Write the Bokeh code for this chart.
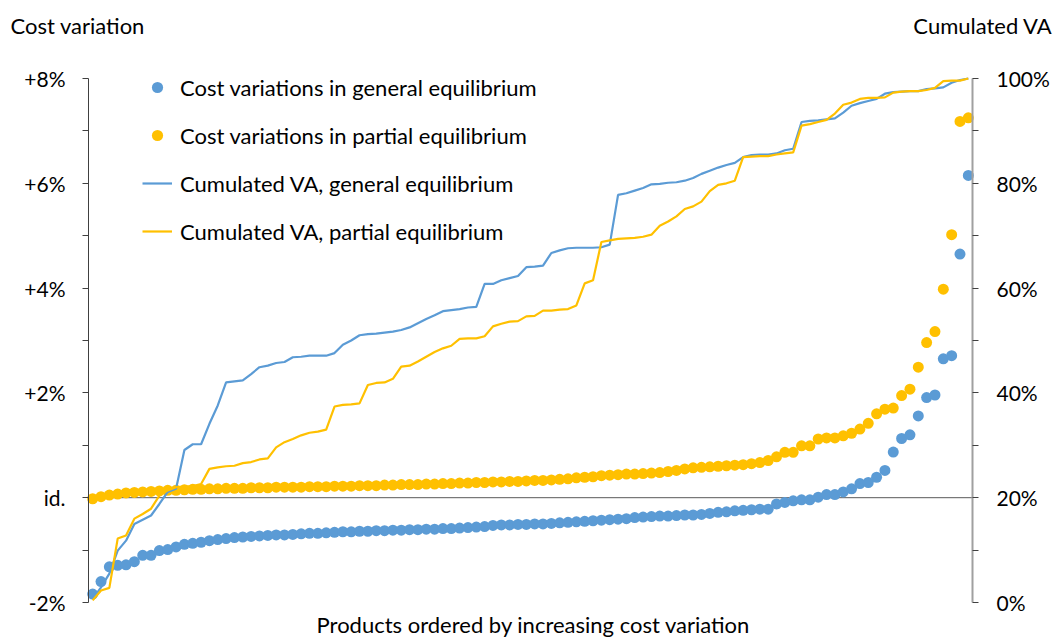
from bokeh.plotting import figure
from bokeh.models import Range1d, LinearAxis, FixedTicker, Label, Legend, LegendItem
from bokeh.embed import file_html
from bokeh.resources import INLINE

# ---------------- data ----------------
cost_general = [
    -1.84, -1.60, -1.32, -1.29, -1.28, -1.22, -1.10, -1.10, -1.01, -0.99,
    -0.94, -0.89, -0.87, -0.85, -0.82, -0.80, -0.78, -0.76, -0.75, -0.74,
    -0.73, -0.72, -0.71, -0.71, -0.70, -0.69, -0.68, -0.68, -0.67, -0.66,
    -0.65, -0.65, -0.64, -0.64, -0.63, -0.63, -0.62, -0.62, -0.61, -0.61,
    -0.60, -0.60, -0.59, -0.59, -0.58, -0.57, -0.56, -0.55, -0.53, -0.52,
    -0.52, -0.51, -0.51, -0.50, -0.50, -0.49, -0.48, -0.47, -0.46, -0.45,
    -0.44, -0.43, -0.42, -0.41, -0.40, -0.38, -0.37, -0.36, -0.35, -0.35,
    -0.34, -0.33, -0.33, -0.32, -0.30, -0.28, -0.27, -0.25, -0.24, -0.23,
    -0.22, -0.22, -0.12, -0.09, -0.06, -0.04, -0.04, 0.01, 0.06, 0.06,
    0.11, 0.17, 0.27, 0.29, 0.39, 0.52, 0.87, 1.13, 1.20, 1.56,
    1.91, 1.96, 2.65, 2.71, 4.65, 6.15,
]
cost_partial = [
    -0.02, 0.02, 0.05, 0.07, 0.09, 0.10, 0.11, 0.12, 0.13, 0.14,
    0.14, 0.15, 0.16, 0.16, 0.17, 0.17, 0.18, 0.18, 0.18, 0.19,
    0.19, 0.19, 0.20, 0.20, 0.20, 0.20, 0.21, 0.21, 0.21, 0.22,
    0.22, 0.22, 0.23, 0.23, 0.23, 0.24, 0.24, 0.25, 0.25, 0.25,
    0.26, 0.26, 0.27, 0.27, 0.28, 0.28, 0.29, 0.29, 0.30, 0.30,
    0.31, 0.31, 0.32, 0.33, 0.33, 0.34, 0.35, 0.36, 0.38, 0.39,
    0.40, 0.42, 0.43, 0.44, 0.45, 0.45, 0.46, 0.47, 0.48, 0.50,
    0.52, 0.55, 0.57, 0.58, 0.59, 0.60, 0.61, 0.62, 0.63, 0.65,
    0.67, 0.71, 0.78, 0.865, 0.865, 0.99, 0.99, 1.12, 1.14, 1.14,
    1.18, 1.23, 1.31, 1.42, 1.60, 1.69, 1.71, 1.95, 2.07, 2.49,
    2.96, 3.17, 3.98, 5.02, 7.18, 7.25,
]
va_general = [
    0.7, 2.9, 5.5, 9.9, 11.8, 15.0, 15.8, 16.6, 18.8, 21.1,
    21.7, 29.1, 30.2, 30.2, 34.1, 37.6, 42.0, 42.2, 42.4, 43.6,
    44.9, 45.2, 45.7, 45.9, 46.8, 46.9, 47.1, 47.1, 47.1, 47.6,
    49.2, 50.0, 51.0, 51.2, 51.3, 51.5, 51.7, 52.0, 52.5, 53.3,
    54.1, 54.8, 55.6, 55.8, 56.0, 56.3, 56.4, 60.8, 60.8, 61.5,
    61.9, 62.3, 64.0, 64.1, 64.3, 66.7, 67.2, 67.6, 67.7, 67.7,
    67.7, 67.8, 68.3, 77.8, 78.1, 78.6, 79.1, 79.8, 79.9, 80.1,
    80.2, 80.5, 81.0, 81.8, 82.4, 83.0, 83.5, 83.9, 85.0, 85.4,
    85.5, 85.5, 85.7, 86.3, 86.6, 91.7, 91.9, 92.0, 92.2, 92.4,
    93.5, 94.8, 95.3, 95.7, 96.1, 97.1, 97.4, 97.5, 97.6, 97.6,
    98.0, 98.1, 98.3, 99.2, 99.7, 100.0,
]
va_partial = [
    0.4, 2.3, 2.8, 12.2, 12.8, 16.0, 16.9, 17.9, 20.4, 21.4,
    22.0, 22.1, 22.2, 22.6, 25.5, 25.8, 26.0, 26.1, 26.6, 26.8,
    27.3, 27.5, 29.6, 30.6, 31.2, 31.9, 32.4, 32.6, 33.0, 37.4,
    37.7, 37.8, 38.0, 41.5, 41.9, 42.0, 42.7, 45.0, 45.2, 46.0,
    46.9, 47.8, 48.5, 49.0, 50.3, 50.4, 50.4, 50.8, 52.7, 53.2,
    53.6, 53.7, 54.6, 54.7, 55.7, 55.7, 55.9, 56.0, 56.7, 60.9,
    61.5, 68.8, 69.1, 69.4, 69.5, 69.6, 69.8, 70.2, 71.9, 72.7,
    73.7, 75.1, 75.6, 76.5, 78.5, 79.7, 80.0, 80.5, 85.0, 85.1,
    85.2, 85.2, 85.5, 85.7, 85.9, 91.0, 91.3, 91.7, 92.1, 93.3,
    95.0, 95.4, 96.1, 96.3, 96.3, 96.4, 97.3, 97.5, 97.6, 97.6,
    97.8, 98.2, 99.5, 99.6, 99.6, 100.0,
]
products = list(range(1, len(cost_general) + 1))

left_ticks = [-2, -1, 0, 1, 2, 3, 4, 5, 6, 7, 8]
left_tick_labels = ["-2%", "", "id.", "", "+2%", "", "+4%", "", "+6%", "", "+8%"]
right_ticks = [0, 10, 20, 30, 40, 50, 60, 70, 80, 90, 100]
right_tick_labels = ["0%", "", "20%", "", "40%", "", "60%", "", "80%", "", "100%"]

legend_labels = [
    "Cost variations in general equilibrium",
    "Cost variations in partial equilibrium",
    "Cumulated VA, general equilibrium",
    "Cumulated VA, partial equilibrium",
]
left_title = "Cost variation"
right_title = "Cumulated VA"
x_title = "Products ordered by increasing cost variation"

# ---------------- style / layout ----------------
BLUE = "#5B9BD5"
GOLD = "#FFC000"
FONT = "Lato"
FS_TICK = "21px"
FS_TEXT = "22px"

W, H = 1055, 637
AX_L, AX_R, AX_T, AX_B = 88, 972, 78, 602   # pixel box of the value area
N = len(products)
X0, X1 = 0.5, N + 0.5
Y0, Y1 = left_ticks[0], left_ticks[-1]
V0, V1 = right_ticks[0], right_ticks[-1]
ppx = (AX_R - AX_L) / (X1 - X0)
ppy = (AX_B - AX_T) / (Y1 - Y0)
xr = Range1d(X0 - AX_L / ppx, X1 + (W - AX_R) / ppx)
yr = Range1d(Y0 - (H - AX_B) / ppy, Y1 + AX_T / ppy)
k = (V1 - V0) / (Y1 - Y0)
vr = Range1d(V0 + (yr.start - Y0) * k, V0 + (yr.end - Y0) * k)


def px_to_x(px):
    return xr.start + px / ppx


def px_to_y(py):
    return yr.end - py / ppy


p = figure(width=W, height=H, output_backend="svg", toolbar_location=None,
           x_range=xr, y_range=yr, min_border=0)
p.outline_line_color = None
p.grid.visible = False
p.xaxis.visible = False
p.background_fill_color = "white"
p.border_fill_color = "white"

ya = p.yaxis[0]
ya.fixed_location = X0
ya.bounds = (Y0, Y1)
ya.ticker = FixedTicker(ticks=left_ticks)
ya.major_label_overrides = {t: l for t, l in zip(left_ticks, left_tick_labels)}
ya.minor_tick_line_color = None
ya.major_tick_in = 0
ya.major_tick_out = 6
ya.axis_line_color = "#404040"
ya.major_tick_line_color = "#404040"
ya.major_label_text_font = FONT
ya.major_label_text_font_size = FS_TICK
ya.major_label_text_color = "black"
ya.major_label_standoff = 17

p.extra_y_ranges = {"va": vr}
ra = LinearAxis(y_range_name="va", ticker=FixedTicker(ticks=right_ticks),
                fixed_location=X1, bounds=(V0, V1))
ra.major_label_overrides = {t: l for t, l in zip(right_ticks, right_tick_labels)}
ra.minor_tick_line_color = None
ra.major_tick_in = 0
ra.major_tick_out = 6
ra.axis_line_color = "#A0A0A0"
ra.axis_line_width = 2
ra.major_tick_line_color = "#404040"
ra.major_label_text_font = FONT
ra.major_label_text_font_size = FS_TICK
ra.major_label_text_color = "black"
ra.major_label_standoff = 18
p.add_layout(ra, "right")

# horizontal axis line crossing at "id."
p.line([X0, X1], [0, 0], line_color="#595959", line_width=1)

r1 = p.scatter(products, cost_general, size=11, fill_color=BLUE, line_color=None)
r2 = p.scatter(products, cost_partial, size=11, fill_color=GOLD, line_color=None)
r3 = p.line(products, va_general, y_range_name="va", line_color=BLUE, line_width=2.2)
r4 = p.line(products, va_partial, y_range_name="va", line_color=GOLD, line_width=2.2)

LEG_LEFT, LEG_TOP, ROW_H, ROW_GAP = 142, 73, 28, 20
leg_h = 4 * ROW_H + 3 * ROW_GAP
legend = Legend(items=[LegendItem(label=l, renderers=[r]) for l, r in
                       zip(legend_labels, [r1, r2, r3, r4])],
                location=(LEG_LEFT, H - LEG_TOP - leg_h), orientation="vertical",
                glyph_width=30, glyph_height=ROW_H, label_height=ROW_H,
                spacing=ROW_GAP, padding=0, margin=0, label_standoff=8,
                label_text_font=FONT, label_text_font_size=FS_TEXT,
                label_text_color="black", label_text_baseline="middle",
                background_fill_alpha=0, border_line_alpha=0)
p.add_layout(legend)

p.add_layout(Label(x=px_to_x(10), y=px_to_y(25), text=left_title,
                   text_font=FONT, text_font_size=FS_TEXT, text_color="black",
                   text_align="left", text_baseline="alphabetic"))
p.add_layout(Label(x=px_to_x(1052), y=px_to_y(25), text=right_title,
                   text_font=FONT, text_font_size=FS_TEXT, text_color="black",
                   text_align="right", text_baseline="alphabetic"))
p.add_layout(Label(x=px_to_x(533), y=px_to_y(624), text=x_title,
                   text_font=FONT, text_font_size=FS_TEXT, text_color="black",
                   text_align="center", text_baseline="alphabetic"))

open("out.html", "w").write(file_html(p, INLINE))
